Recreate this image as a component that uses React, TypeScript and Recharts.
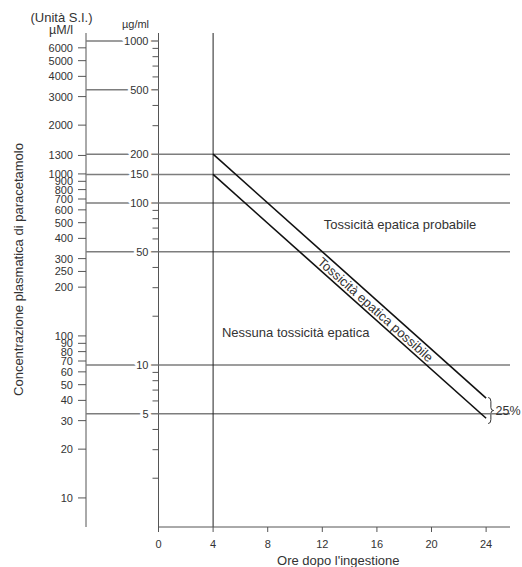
import React from 'react';
import {
  ComposedChart,
  Line,
  XAxis,
  YAxis,
  ReferenceLine,
  ReferenceDot,
  ReferenceArea,
} from 'recharts';

// ---------- data ----------
const hours = [4, 24];
const upperLine = [200, 6.25];
const lowerLine = [150, 4.69];

const xTicks = [0, 4, 8, 12, 16, 20, 24];
const ugTicks = [2, 3, 4, 5, 6, 7, 8, 9, 10, 20, 30, 40, 50, 60, 70, 80, 90, 100, 150, 200, 300, 400, 500, 600, 700, 800, 900, 1000];
const ugLabeled = [5, 10, 50, 100, 150, 200, 500, 1000];
const ugGridLines = [5, 10, 50, 100, 150, 200];
const umTicks = [10, 20, 30, 40, 50, 60, 70, 80, 90, 100, 200, 250, 300, 400, 500, 600, 700, 800, 900, 1000, 1300, 2000, 3000, 4000, 5000, 6000];

const UM_PER_UG = 6.615;
const ugDomain = [1, 1120];
const umDomain = [ugDomain[0] * UM_PER_UG, ugDomain[1] * UM_PER_UG];
const xDomain = [0, 25.75];

const zoneLabels = [
  { text: 'Tossicità epatica probabile', h: 17.7, v: 74 },
  { text: 'Nessuna tossicità epatica', h: 10.05, v: 16 },
];
const bandLabel = { text: 'Tossicità epatica possibile', h: 15.9, v: 22 };
const spread = { text: '25%', h1: 24.15, h2: 24.55, v1: 4.35, v2: 6.3 };

const data = hours.map((h, i) => ({ h, upper: upperLine[i], lower: lowerLine[i] }));

// ---------- style ----------
const FONT = '"Liberation Sans", Arial, Helvetica, sans-serif';
const TEXT = '#333';
const AXIS = '#555';
const GRID = '#7d7d7d';

const UgTick = (props: any) => {
  const { x, y, payload } = props;
  const v = payload?.value;
  const labeled = ugLabeled.includes(v);
  return (
    <g>
      {labeled ? (
        <line x1={x - 72.5} x2={x} y1={y} y2={y} stroke={GRID} strokeWidth={1.4} />
      ) : (
        <line x1={x - 6} x2={x} y1={y} y2={y} stroke={AXIS} strokeWidth={1} />
      )}
      {labeled && (
        <text
          x={x - 10}
          y={y}
          dy={4}
          textAnchor="end"
          fontSize={11}
          fill={TEXT}
          stroke="#fff"
          strokeWidth={6}
          strokeLinejoin="round"
          paintOrder="stroke"
          fontFamily={FONT}
        >
          {v}
        </text>
      )}
    </g>
  );
};

const UmAxisLabel = (props: any) => {
  const vb = props?.viewBox || { x: 0, y: 33, width: 86, height: 494 };
  const right = vb.x + vb.width;
  return (
    <g fontFamily={FONT} fill={TEXT}>
      <text x={right - 24.5} y={vb.y - 11} textAnchor="middle" fontSize={13} fill={TEXT}>
        (Unità S.I.)
      </text>
      <text x={right - 25} y={vb.y + 0.5} textAnchor="middle" fontSize={12.5} fill={TEXT}>
        µM/l
      </text>
      <text
        x={18}
        y={vb.y + vb.height / 2 - 10.5}
        transform={`rotate(-90 18 ${vb.y + vb.height / 2 - 10.5})`}
        textAnchor="middle"
        dy={4.5}
        fontSize={13}
        fill={TEXT}
      >
        Concentrazione plasmatica di paracetamolo
      </text>
    </g>
  );
};

const UgAxisLabel = (props: any) => {
  const vb = props?.viewBox || { x: 86, y: 33, width: 72.5, height: 494 };
  const right = vb.x + vb.width;
  return (
    <text x={right - 23} y={vb.y - 5} textAnchor="middle" fontSize={11} fill={TEXT} fontFamily={FONT}>
      µg/ml
    </text>
  );
};

const Brace = (p: any) => {
  const { x, y, width: w, height: h } = p;
  if (x == null || y == null) return null;
  const m = x + w * 0.5;
  const cy = y + h / 2;
  const d = `M${x},${y} Q${m},${y} ${m},${y + 4} L${m},${cy - 3} Q${m},${cy} ${x + w},${cy} Q${m},${cy} ${m},${cy + 3} L${m},${y + h - 4} Q${m},${y + h} ${x},${y + h}`;
  return <path d={d} fill="none" stroke={TEXT} strokeWidth={1} />;
};

export default function App() {
  return (
    <div style={{ position: 'absolute', left: 0, top: 0, width: 522, height: 567, background: '#fff', fontFamily: FONT }}>
      <ComposedChart width={522} height={567} data={data} margin={{ top: 33, right: 12, bottom: 0, left: 0 }}>
        <XAxis
          dataKey="h"
          type="number"
          domain={xDomain}
          allowDataOverflow
          ticks={xTicks}
          interval={0}
          height={40}
          tickSize={5}
          tickMargin={8}
          stroke={AXIS}
          tick={{ fontSize: 11, fill: TEXT, fontFamily: FONT }}
          label={{ value: "Ore dopo l'ingestione", position: 'insideBottom', offset: 2, fontSize: 13, fill: TEXT, dx: 4 }}
        />
        <YAxis
          yAxisId="ug"
          orientation="left"
          type="number"
          scale="log"
          domain={ugDomain}
          allowDataOverflow
          ticks={ugTicks}
          interval={0}
          width={72.5}
          tickSize={0}
          tickMargin={0}
          tickLine={false}
          stroke={AXIS}
          tick={<UgTick />}
          label={UgAxisLabel}
        />
        <YAxis
          yAxisId="um"
          orientation="left"
          type="number"
          scale="log"
          domain={umDomain}
          allowDataOverflow
          ticks={umTicks}
          interval={0}
          width={86}
          tickSize={8}
          tickMargin={5}
          stroke={AXIS}
          tick={{ fontSize: 11, fill: TEXT, fontFamily: FONT }}
          label={UmAxisLabel}
        />

        {ugGridLines.map((v) => (
          <ReferenceLine key={v} yAxisId="ug" y={v} stroke={GRID} strokeWidth={1.4} />
        ))}
        <ReferenceLine yAxisId="ug" x={4} stroke="#222" strokeWidth={1} />

        <Line yAxisId="ug" dataKey="upper" type="linear" stroke="#111" strokeWidth={1.6} dot={false} isAnimationActive={false} />
        <Line yAxisId="ug" dataKey="lower" type="linear" stroke="#111" strokeWidth={1.6} dot={false} isAnimationActive={false} />

        {zoneLabels.map((z) => (
          <ReferenceDot
            key={z.text}
            yAxisId="ug"
            x={z.h}
            y={z.v}
            r={0}
            fill="none"
            stroke="none"
            ifOverflow="visible"
            label={{ value: z.text, position: 'center', fontSize: 13, fill: TEXT }}
          />
        ))}
        <ReferenceDot
          yAxisId="ug"
          x={bandLabel.h}
          y={bandLabel.v}
          r={0}
          fill="none"
          stroke="none"
          ifOverflow="visible"
          label={{ value: bandLabel.text, position: 'center', fontSize: 13, fill: TEXT, angle: 41.77 }}
        />
        <ReferenceArea
          yAxisId="ug"
          x1={spread.h1}
          x2={spread.h2}
          y1={spread.v1}
          y2={spread.v2}
          ifOverflow="visible"
          shape={Brace}
          label={{ value: spread.text, position: 'right', offset: 2, fontSize: 12.5, fill: TEXT }}
        />
      </ComposedChart>
    </div>
  );
}
